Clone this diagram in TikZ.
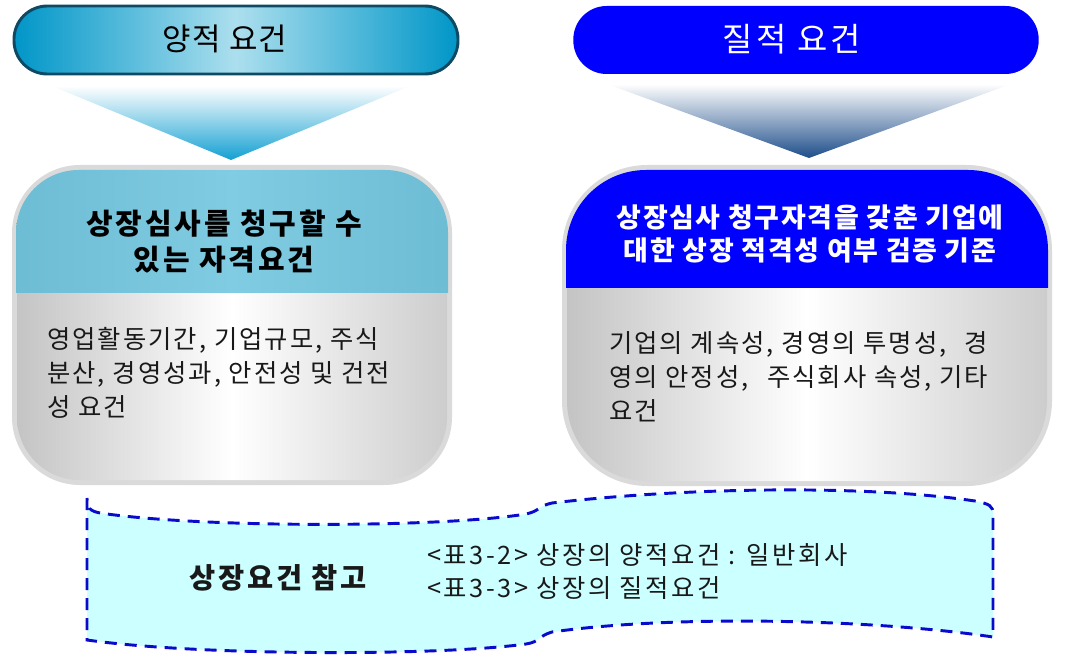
\documentclass[tikz,border=0pt]{standalone}
\usepackage{fontspec}
\setmainfont{Noto Sans CJK KR}
\newfontfamily\lsfour[LetterSpace=4]{Noto Sans CJK KR}
\newfontfamily\lssix[LetterSpace=6]{Noto Sans CJK KR}
\newfontfamily\lseight[LetterSpace=8]{Noto Sans CJK KR}
\newfontfamily\lsten[LetterSpace=10]{Noto Sans CJK KR}
\definecolor{pillEdge}{RGB}{0,150,200}
\definecolor{pillMid}{RGB}{172,223,238}
\definecolor{pillLine}{RGB}{14,74,99}
\definecolor{qblue}{RGB}{0,0,255}
\definecolor{triL}{RGB}{20,160,210}
\definecolor{triR}{RGB}{30,78,138}
\definecolor{rim}{RGB}{218,218,218}
\definecolor{boxSide}{RGB}{196,196,196}
\definecolor{tealA}{RGB}{108,188,212}
\definecolor{tealB}{RGB}{128,204,226}
\definecolor{waveFill}{RGB}{204,255,255}
\definecolor{waveLine}{RGB}{10,10,205}
\definecolor{txt}{RGB}{25,25,25}
\begin{document}
\begin{tikzpicture}[x=0.75pt,y=-0.75pt,
  pill/.style={rounded corners=25pt, minimum height=51pt, inner sep=0pt},
  titletext/.style={align=center, inner sep=0pt},
  bodytext/.style={font=\lseight\fontsize{19pt}{25.5pt}\selectfont, align=left, inner sep=0pt, anchor=north west, text=txt},
  wave/.style={fill=waveFill, draw=waveLine, line width=2.2pt, dash pattern=on 9pt off 6pt}
]
\useasboundingbox (0,0) rectangle (1068,663);

% ---- header pills
\node[pill, draw=pillLine, line width=2.2pt, left color=pillEdge, right color=pillEdge, middle color=pillMid,
      minimum width=333pt] (pillL) at (236,40) {};
\node[font=\lsfour\fontsize{23.2pt}{27pt}\selectfont, text=black] (pillLtext) at (225,39) {양적 요건};
\node[pill, fill=qblue, minimum width=349pt] (pillR) at (806,40) {};
\node[font=\lsten\fontsize{24.7pt}{28pt}\selectfont, text=white] (pillRtext) at (792,39) {질적 요건};

% ---- funnels
\coordinate (tLa) at (52,86); \coordinate (tLb) at (410,86); \coordinate (tLc) at (231,160);
\shade[top color=white, bottom color=triL] (tLa) -- (tLb) -- (tLc) -- cycle;
\coordinate (tRa) at (607,84); \coordinate (tRb) at (1011,84); \coordinate (tRc) at (809,158);
\shade[top color=white, bottom color=triR] (tRa) -- (tRb) -- (tRc) -- cycle;

% ---- left box
\fill[rim, rounded corners=51pt] (12,165) rectangle (452,485);
\shade[left color=boxSide, right color=boxSide!85, middle color=white, rounded corners=47pt] (17,170) rectangle (447,480);
\begin{scope}
  \clip[rounded corners=47pt] (16,170) rectangle (448,480);
  \shade[left color=tealA, right color=tealA, middle color=tealB] (10,165) rectangle (455,292);
\end{scope}
\node[titletext, text=black, font=\lsten\bfseries\fontsize{21.7pt}{27pt}\selectfont] (titleL) at (224,242) {상장심사를 청구할 수\\있는 자격요건};
\node[bodytext] (bodyL) at (47,327) {영업활동기간, 기업규모, 주식\\분산, 경영성과, 안전성 및 건전\\성 요건};

% ---- right box
\fill[rim, rounded corners=64pt] (562,165) rectangle (1052,486);
\shade[left color=boxSide, right color=boxSide!85, middle color=white, rounded corners=60pt] (567,170) rectangle (1047,481);
\begin{scope}
  \clip[rounded corners=60pt] (566,170) rectangle (1048,481);
  \fill[qblue] (560,165) rectangle (1055,288);
\end{scope}
\node[titletext, text=white, font=\lssix\bfseries\fontsize{20.2pt}{24.75pt}\selectfont] (titleR) at (810,234) {상장심사 청구자격을 갖춘 기업에\\대한 상장 적격성 여부 검증 기준};
\node[bodytext] (bodyR) at (609,331) {기업의 계속성, 경영의 투명성,\hspace{8pt} 경\\영의 안정성,\hspace{8pt} 주식회사 속성, 기타\\요건};

% ---- bottom wave
\draw[wave] (87,498) -- (87,640)
  .. controls (200,656) and (440,656) .. (526,644)
  .. controls (540,642) and (538,636) .. (552,632)
  .. controls (680,614) and (880,620) .. (993,637)
  -- (993,514)
  .. controls (993,506) and (990,504) .. (975,501)
  .. controls (860,484) and (680,488) .. (552,503)
  .. controls (538,506) and (540,511) .. (526,514)
  .. controls (440,528) and (200,528) .. (100,513)
  .. controls (90,511) and (87,508) .. (87,498);
\node[font=\lsten\bfseries\fontsize{21.3pt}{24pt}\selectfont, text=txt] (refTitle) at (278,578) {상장요건 참고};
\node[bodytext, font=\lsten\fontsize{19pt}{24.75pt}\selectfont] (refs) at (427,543) {<표3-2> 상장의 양적요건 : 일반회사\\<표3-3> 상장의 질적요건};
\end{tikzpicture}
\end{document}
